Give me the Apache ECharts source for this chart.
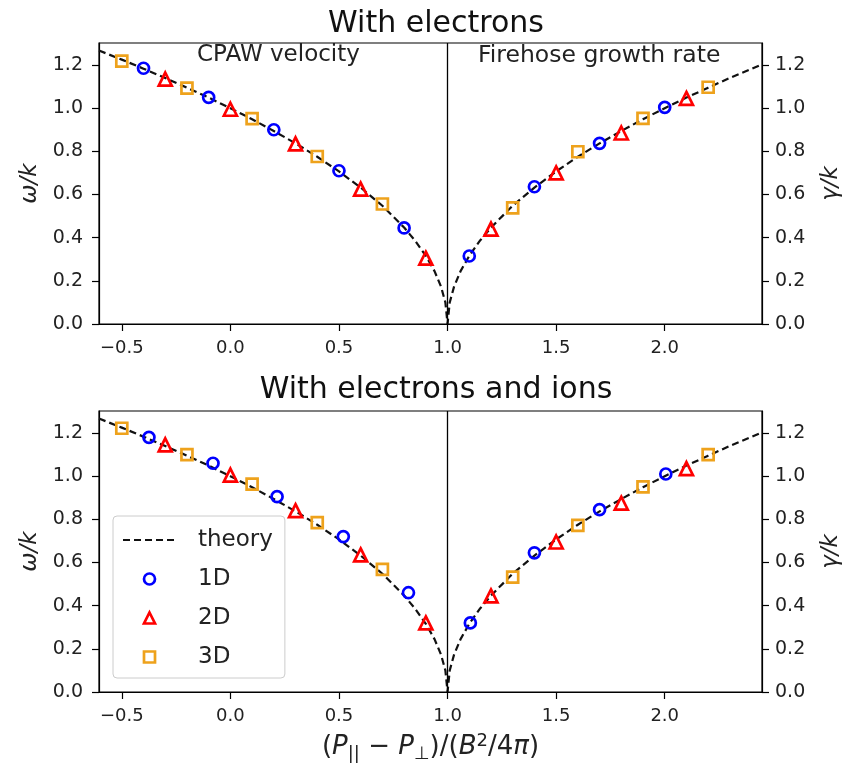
<!DOCTYPE html>
<html>
<head>
<meta charset="utf-8">
<script src="https://cdn.jsdelivr.net/npm/echarts@6/dist/echarts.min.js"></script>
<style>
html,body{margin:0;padding:0;background:#fff;}
#chart{width:846px;height:772px;}
</style>
</head>
<body>
<div id="chart"></div>
<script>
// ---- data ----
var xTicks = [-0.5, 0.0, 0.5, 1.0, 1.5, 2.0];
var yTicks = [0.0, 0.2, 0.4, 0.6, 0.8, 1.0, 1.2];

// theory curve
var theoryX = [-0.605,-0.5,-0.4,-0.3,-0.2,-0.1,0.0,0.1,0.2,0.3,0.4,0.5,0.6,0.7,0.8,0.85,0.9,0.94,0.97,0.99,1.0,1.01,1.03,1.06,1.1,1.15,1.2,1.3,1.4,1.5,1.6,1.7,1.8,1.9,2.0,2.1,2.2,2.3,2.448];
var theoryY = [1.267,1.225,1.183,1.140,1.095,1.049,1.000,0.949,0.894,0.837,0.775,0.707,0.632,0.548,0.447,0.387,0.316,0.245,0.173,0.100,0.000,0.100,0.173,0.245,0.316,0.387,0.447,0.548,0.632,0.707,0.775,0.837,0.894,0.949,1.000,1.049,1.095,1.140,1.203];

// top panel: with electrons
var e1dX = [-0.4,-0.1,0.2,0.5,0.8,1.1,1.4,1.7,2.0];
var e1dY = [1.185,1.05,0.90,0.71,0.445,0.315,0.636,0.837,1.004];
var e2dX = [-0.3,0.0,0.3,0.6,0.9,1.2,1.5,1.8,2.1];
var e2dY = [1.135,0.995,0.835,0.625,0.305,0.44,0.70,0.885,1.045];
var e3dX = [-0.5,-0.2,0.1,0.4,0.7,1.3,1.6,1.9,2.2];
var e3dY = [1.218,1.093,0.952,0.776,0.556,0.538,0.798,0.953,1.097];

// bottom panel: with electrons and ions
var i1dX = [-0.375,-0.08,0.215,0.52,0.82,1.105,1.4,1.7,2.005];
var i1dY = [1.18,1.06,0.905,0.72,0.46,0.32,0.645,0.845,1.01];
var i2dX = [-0.3,0.0,0.3,0.6,0.9,1.2,1.5,1.8,2.1];
var i2dY = [1.145,1.005,0.84,0.635,0.32,0.445,0.695,0.875,1.035];
var i3dX = [-0.5,-0.2,0.1,0.4,0.7,1.3,1.6,1.9,2.2];
var i3dY = [1.222,1.10,0.963,0.785,0.568,0.532,0.772,0.95,1.10];

var vLineX = 1.0;
var titles = ['With electrons', 'With electrons and ions'];
var notes = ['CPAW velocity', 'Firehose growth rate'];
var seriesNames = ['theory', '1D', '2D', '3D'];

// ---- build ----
function pairs(xs, ys){ return xs.map(function(x,i){ return [x, ys[i]]; }); }
var FONT = 'DejaVu Sans';
var XMIN = -0.605, XMAX = 2.448, YMIN = 0, YMAX = 1.302;
var C1 = '#0000ff', C2 = '#ff0000', C3 = '#eea21c';
var TICKC = '#222';
var TRI_PATH = 'path://M0,-1L1,1L-1,1Z';
var SQ_PATH = 'path://M-1,-1L1,-1L1,1L-1,1Z';

function fmtX(v){ var s = Math.abs(v).toFixed(1); return (v < 0 ? '\u2212' : '') + s; }

function xAxisDef(gi, showName){
  var a = {
    type:'value', gridIndex:gi, min:XMIN, max:XMAX,
    axisLine:{show:true, onZero:false, lineStyle:{color:'#000', width:1.2}},
    axisTick:{show:true, length:7, customValues:xTicks, lineStyle:{color:'#000', width:1.2}},
    axisLabel:{show:true, customValues:xTicks, formatter:fmtX, margin:15, color:TICKC, fontFamily:FONT, fontSize:18},
    splitLine:{show:false}
  };
  if (showName){
    a.name = '{p|(}{it|P}{sub|||}{p| \u2212 }{it|P}{sub|\u22a5}{p|)/(}{it|B}{sup|2}{p|/4}{it|\u03c0}{p|)}';
    a.nameLocation = 'middle';
    a.nameGap = 39;
    a.nameTextStyle = {
      fontFamily:FONT, fontSize:26, color:'#222',
      rich:{
        p:{fontFamily:FONT, fontSize:26, color:'#222'},
        it:{fontFamily:FONT, fontSize:26, fontStyle:'italic', color:'#222'},
        sub:{fontFamily:FONT, fontSize:18, color:'#222', padding:[14,0,0,0]},
        sup:{fontFamily:FONT, fontSize:18, color:'#222', padding:[0,0,12,0]}
      }
    };
  }
  return a;
}
function yAxisDef(gi, pos, name){
  return {
    type:'value', gridIndex:gi, position:pos, min:YMIN, max:YMAX,
    name:name, nameLocation:'middle', nameRotate:90, nameGap: pos==='left' ? 56 : 58,
    nameTextStyle:{fontFamily:FONT, fontSize:23, fontStyle:'italic', color:'#222'},
    axisLine:{show:true, onZero:false, lineStyle:{color:'#000', width:1.2}},
    axisTick:{show:true, length:7, customValues:yTicks, lineStyle:{color:'#000', width:1.2}},
    axisLabel:{show:true, customValues:yTicks, formatter:function(v){return v.toFixed(1);}, margin: pos==='left' ? 16 : 13, color:TICKC, fontFamily:FONT, fontSize:19},
    splitLine:{show:false}
  };
}
function scatter(name, xi, yi, xs, ys, sym, size, col){
  return {
    name:name, type:'scatter', xAxisIndex:xi, yAxisIndex:yi,
    data:pairs(xs, ys), symbol:sym, symbolSize:size, z:5,
    itemStyle:{color:'rgba(0,0,0,0)', borderColor:col, borderWidth:2.7, opacity:1},
    emphasis:{disabled:true}
  };
}
function theory(xi, yi){
  return {
    name:seriesNames[0], type:'line', xAxisIndex:xi, yAxisIndex:yi,
    data:pairs(theoryX, theoryY), showSymbol:false, symbol:'none', z:3,
    lineStyle:{color:'#111', width:2.2, type:[7,4]},
    itemStyle:{color:'#111'},
    emphasis:{disabled:true},
    markLine:{
      silent:true, symbol:'none', animation:false,
      label:{show:false},
      lineStyle:{color:'#000', width:1.3, type:'solid'},
      data:[{xAxis:vLineX}]
    }
  };
}

var gridTop = [43, 411];
function gridDef(t){
  return {left:99, top:t, width:663, height:281, show:true, borderColor:'#000', borderWidth:1.2,
          backgroundColor:'rgba(0,0,0,0)', containLabel:false, outerBoundsMode:'none'};
}
var option = {
  animation:false,
  backgroundColor:'#fff',
  textStyle:{fontFamily:FONT},
  title:[
    {text:titles[0], left:431, top:4, textAlign:'center', textStyle:{fontFamily:FONT, fontSize:30, fontWeight:'normal', color:'#111'}},
    {text:titles[1], left:431, top:370, textAlign:'center', textStyle:{fontFamily:FONT, fontSize:30, fontWeight:'normal', color:'#111'}}
  ],
  grid:[gridDef(gridTop[0]), gridDef(gridTop[1])],
  xAxis:[xAxisDef(0,false), xAxisDef(1,true)],
  yAxis:[yAxisDef(0,'left','\u03c9/k'), yAxisDef(0,'right','\u03b3/k'), yAxisDef(1,'left','\u03c9/k'), yAxisDef(1,'right','\u03b3/k')],
  legend:{
    show:true, orient:'vertical', left:113, top:516,
    data:[
      {name:seriesNames[0], itemStyle:{opacity:0}},
      {name:seriesNames[1], icon:'circle', itemStyle:{color:'rgba(0,0,0,0)', borderColor:C1, borderWidth:2.7}},
      {name:seriesNames[2], icon:TRI_PATH, itemStyle:{color:'rgba(0,0,0,0)', borderColor:C2, borderWidth:2.7}},
      {name:seriesNames[3], icon:SQ_PATH, itemStyle:{color:'rgba(0,0,0,0)', borderColor:C3, borderWidth:2.7}}
    ],
    itemWidth:53, itemHeight:11, itemGap:15,
    symbolKeepAspect:true,
    padding:[12,12,9,9],
    borderColor:'#cccccc', borderWidth:1, borderRadius:4,
    backgroundColor:'rgba(255,255,255,0.8)',
    textStyle:{fontFamily:FONT, fontSize:23, color:'#222', lineHeight:24, padding:[0,0,0,17]},
    selectedMode:false
  },
  graphic:[
    {type:'text', left:197, top:44, silent:true, style:{text:notes[0], fontFamily:FONT, fontSize:23, fill:'#222'}},
    {type:'text', left:478, top:44, silent:true, style:{text:notes[1], fontFamily:FONT, fontSize:23.5, fill:'#222'}}
  ],
  series:[
    theory(0,0),
    scatter(seriesNames[1],0,0,e1dX,e1dY,'circle',11,C1),
    scatter(seriesNames[2],0,0,e2dX,e2dY,'triangle',13,C2),
    scatter(seriesNames[3],0,0,e3dX,e3dY,'rect',11,C3),
    theory(1,2),
    scatter(seriesNames[1],1,2,i1dX,i1dY,'circle',11,C1),
    scatter(seriesNames[2],1,2,i2dX,i2dY,'triangle',13,C2),
    scatter(seriesNames[3],1,2,i3dX,i3dY,'rect',11,C3)
  ]
};
var chart = echarts.init(document.getElementById('chart'), null, {renderer:'canvas'});
chart.setOption(option);
</script>
</body>
</html>
